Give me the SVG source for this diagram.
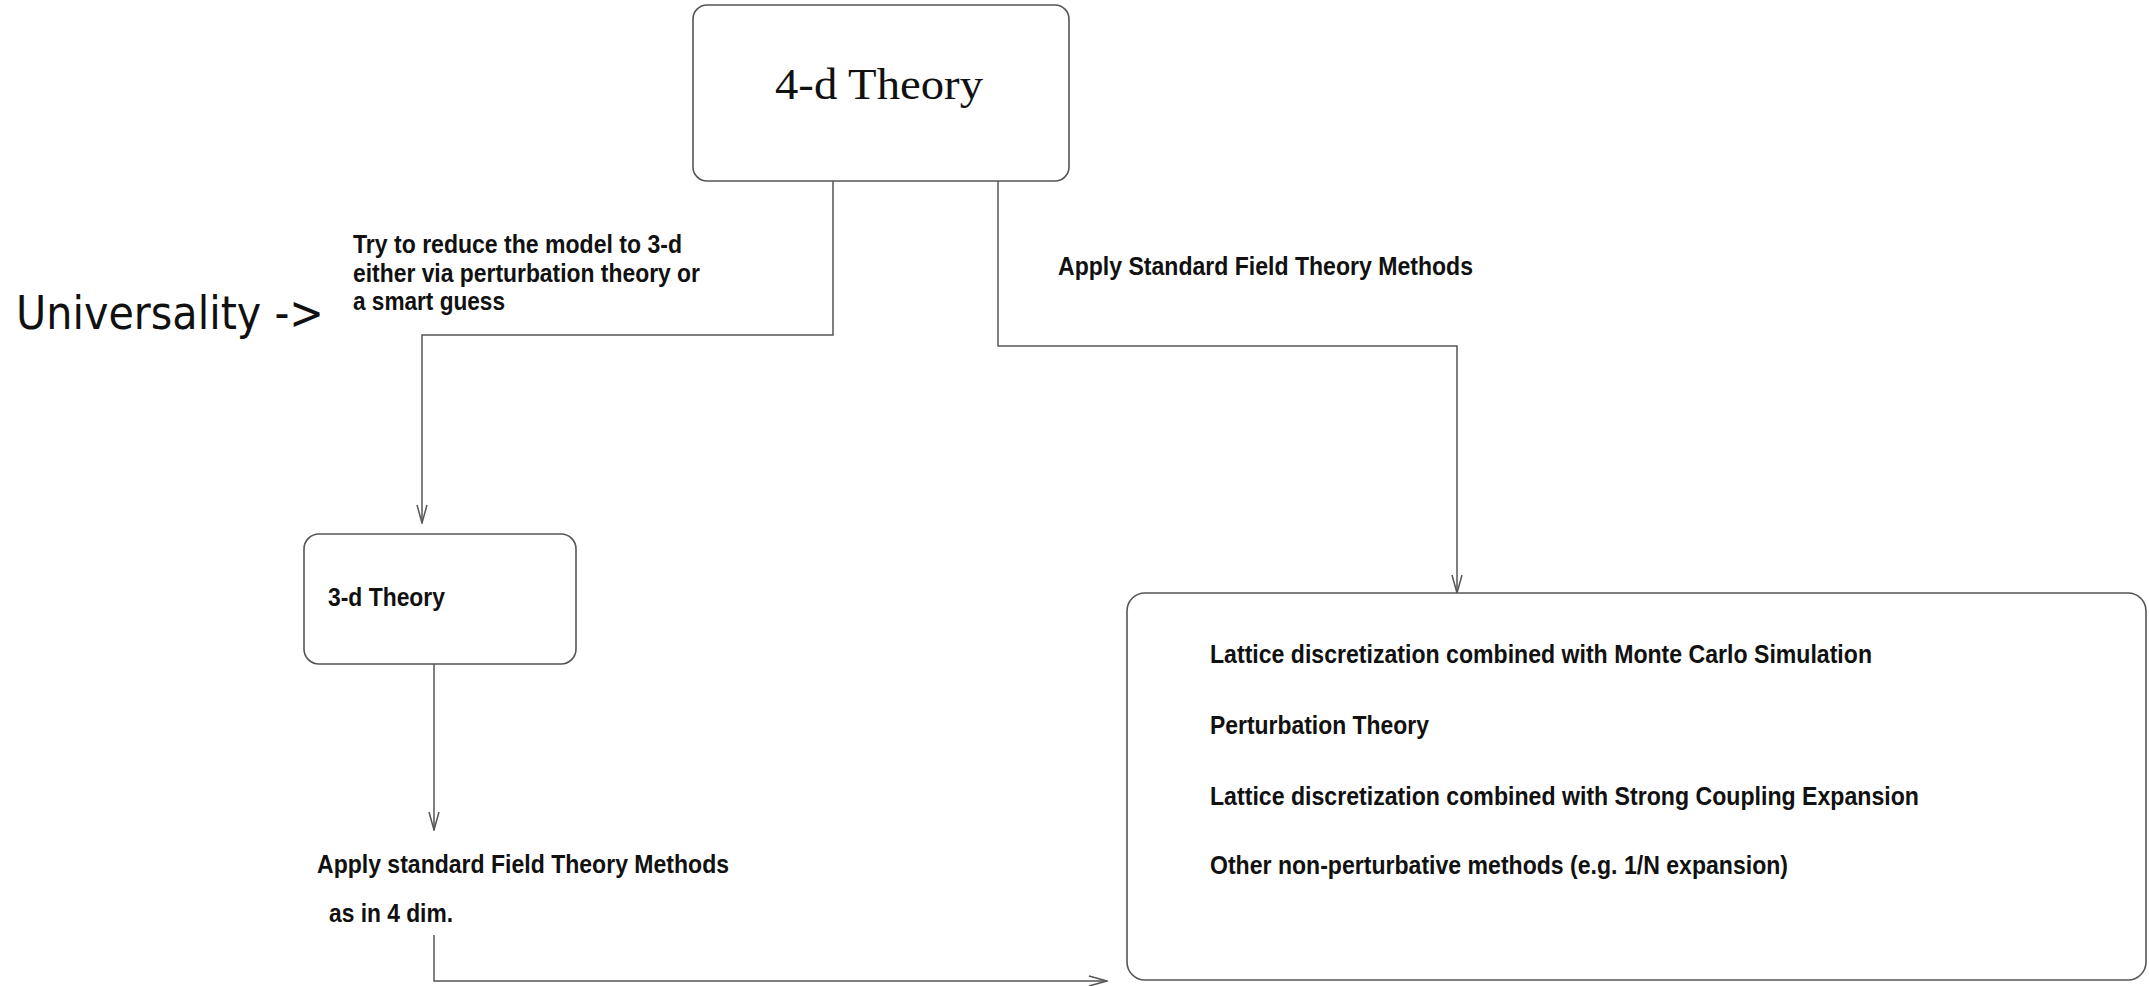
<svg xmlns="http://www.w3.org/2000/svg" width="2149" height="986" viewBox="0 0 2149 986">
<style>
.box{fill:#fff;stroke:#555;stroke-width:1.6}
.con{fill:none;stroke:#555;stroke-width:1.5}
.lbl{font-family:"Liberation Sans",Arial,sans-serif;font-weight:bold;font-size:26px;fill:#111}
.ser{font-family:"Liberation Serif","Times New Roman",serif;font-size:45px;fill:#111}
.uni{font-family:"DejaVu Sans",sans-serif;font-size:46px;fill:#111}
</style>
<defs>
<marker id="arr" viewBox="0 0 20 12" refX="19" refY="6" markerWidth="20" markerHeight="12" markerUnits="userSpaceOnUse" orient="auto">
<path d="M1,1 L19,6 L1,11" fill="none" stroke="#555" stroke-width="1.5"/>
</marker>
</defs>
<rect width="2149" height="986" fill="#fff"/>
<g id="connectors">
<path class="con" d="M833,181 V335 H422 V523" marker-end="url(#arr)"/>
<path class="con" d="M998,181 V346 H1457 V593" marker-end="url(#arr)"/>
<path class="con" d="M434,664 V830" marker-end="url(#arr)"/>
<path class="con" d="M434,935 V981 H1107" marker-end="url(#arr)"/>
</g>
<g id="node-4d">
<rect class="box" x="693" y="5" width="376" height="176" rx="14"/>
<text class="ser" x="775" y="99" textLength="208" lengthAdjust="spacingAndGlyphs">4-d Theory</text>
</g>
<g id="label-reduce">
<text class="lbl" x="353" y="253" textLength="329" lengthAdjust="spacingAndGlyphs">Try to reduce the model to 3-d</text>
<text class="lbl" x="353" y="282" textLength="347" lengthAdjust="spacingAndGlyphs">either via perturbation theory or</text>
<text class="lbl" x="353" y="310" textLength="152" lengthAdjust="spacingAndGlyphs">a smart guess</text>
</g>
<g id="label-universality">
<text class="uni" x="16" y="329" textLength="308" lengthAdjust="spacingAndGlyphs">Universality -&gt;</text>
</g>
<g id="label-apply-standard">
<text class="lbl" x="1058" y="275" textLength="415" lengthAdjust="spacingAndGlyphs">Apply Standard Field Theory Methods</text>
</g>
<g id="node-3d">
<rect class="box" x="304" y="534" width="272" height="130" rx="15"/>
<text class="lbl" x="328" y="606" textLength="117" lengthAdjust="spacingAndGlyphs">3-d Theory</text>
</g>
<g id="label-apply-3d">
<text class="lbl" x="317" y="873" textLength="412" lengthAdjust="spacingAndGlyphs">Apply standard Field Theory Methods</text>
<text class="lbl" x="329" y="922" textLength="124" lengthAdjust="spacingAndGlyphs">as in 4 dim.</text>
</g>
<g id="node-methods">
<rect class="box" x="1127" y="593" width="1019" height="387" rx="18"/>
<text class="lbl" x="1210" y="663" textLength="662" lengthAdjust="spacingAndGlyphs">Lattice discretization combined with Monte Carlo Simulation</text>
<text class="lbl" x="1210" y="734" textLength="219" lengthAdjust="spacingAndGlyphs">Perturbation Theory</text>
<text class="lbl" x="1210" y="805" textLength="709" lengthAdjust="spacingAndGlyphs">Lattice discretization combined with Strong Coupling Expansion</text>
<text class="lbl" x="1210" y="874" textLength="578" lengthAdjust="spacingAndGlyphs">Other non-perturbative methods (e.g. 1/N expansion)</text>
</g>
</svg>
